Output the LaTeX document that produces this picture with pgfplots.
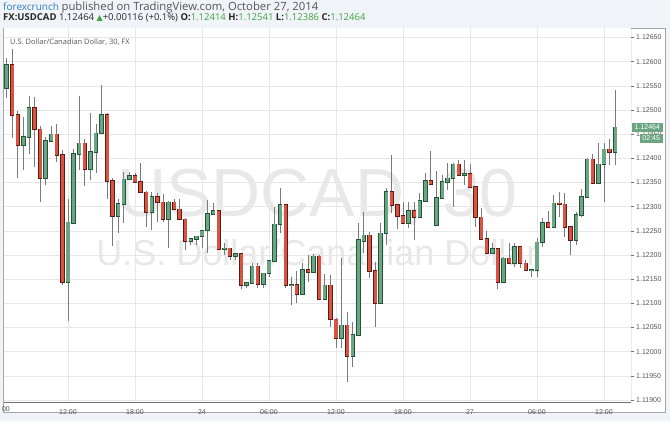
\documentclass[border=0pt]{standalone}
\usepackage{fontspec}
\setmainfont{Open Sans}
\newfontfamily\arialf{Liberation Sans}
\newfontfamily\symf{DejaVu Sans}
\usepackage{pgfplots}
\usepackage{pgfplotstable}
\pgfplotsset{compat=1.18}

\definecolor{upfill}{HTML}{6BA583}
\definecolor{upedge}{HTML}{225437}
\definecolor{dnfill}{HTML}{D75442}
\definecolor{dnedge}{HTML}{5B1A13}
\definecolor{wickc}{HTML}{7A7A7C}
\definecolor{gridc}{HTML}{E7E7E7}
\definecolor{bgc}{HTML}{F0F3F7}
\definecolor{panelc}{HTML}{A5A5A5}
\definecolor{axisc}{HTML}{707070}
\definecolor{tickc}{HTML}{555555}
\definecolor{markc}{HTML}{E8E8E8}
\definecolor{fxblue}{HTML}{2F7FC4}
\definecolor{pgreen}{HTML}{3FA142}

% 30 minute bars, k = bar number counted from 12:00 on the 23rd
\pgfplotstableread{
k O H L C
-11 1.12545 1.12607 1.12524 1.12593
-8 1.12428 1.12486 1.12376 1.12445
-7 1.12445 1.12528 1.12410 1.12505
-4 1.12360 1.12445 1.12345 1.12436
-3 1.12436 1.12467 1.12434 1.12450
0 1.12144 1.12315 1.12064 1.12268
1 1.12267 1.12419 1.12265 1.12410
2 1.12410 1.12528 1.12376 1.12431
4 1.12377 1.12493 1.12355 1.12414
5 1.12414 1.12472 1.12369 1.12452
6 1.12452 1.12552 1.12450 1.12490
9 1.12281 1.12315 1.12246 1.12306
10 1.12306 1.12372 1.12266 1.12357
11 1.12357 1.12372 1.12356 1.12364
15 1.12288 1.12331 1.12252 1.12321
18 1.12274 1.12311 1.12214 1.12309
22 1.12230 1.12234 1.12221 1.12233
23 1.12233 1.12240 1.12221 1.12239
24 1.12239 1.12251 1.12214 1.12250
25 1.12251 1.12314 1.12205 1.12285
26 1.12285 1.12308 1.12284 1.12292
28 1.12212 1.12224 1.12200 1.12214
30 1.12199 1.12203 1.12190 1.12202
32 1.12137 1.12142 1.12131 1.12142
33 1.12142 1.12183 1.12140 1.12177
35 1.12140 1.12163 1.12131 1.12162
36 1.12162 1.12188 1.12155 1.12188
37 1.12188 1.12300 1.12186 1.12264
38 1.12264 1.12338 1.12245 1.12304
40 1.12137 1.12155 1.12097 1.12139
42 1.12120 1.12183 1.12118 1.12170
44 1.12164 1.12202 1.12162 1.12197
46 1.12108 1.12161 1.12106 1.12137
49 1.12029 1.12193 1.12007 1.12055
51 1.11992 1.12062 1.11969 1.12035
52 1.12035 1.12266 1.12033 1.12231
53 1.12230 1.12288 1.12204 1.12241
56 1.12101 1.12266 1.12099 1.12245
57 1.12245 1.12338 1.12221 1.12331
61 1.12267 1.12310 1.12256 1.12291
63 1.12279 1.12329 1.12277 1.12312
64 1.12312 1.12369 1.12310 1.12354
66 1.12262 1.12374 1.12260 1.12319
67 1.12319 1.12365 1.12317 1.12351
68 1.12351 1.12390 1.12334 1.12359
69 1.12359 1.12391 1.12300 1.12388
71 1.12365 1.12397 1.12345 1.12368
76 1.12205 1.12224 1.12203 1.12213
78 1.12144 1.12195 1.12142 1.12193
80 1.12183 1.12224 1.12176 1.12217
83 1.12168 1.12171 1.12155 1.12170
84 1.12170 1.12235 1.12155 1.12226
85 1.12226 1.12276 1.12217 1.12267
87 1.12257 1.12324 1.12255 1.12307
91 1.12231 1.12290 1.12221 1.12283
92 1.12283 1.12336 1.12279 1.12321
93 1.12321 1.12400 1.12319 1.12398
95 1.12348 1.12431 1.12347 1.12388
96 1.12388 1.12431 1.12310 1.12419
98 1.12414 1.12541 1.12386 1.12464
}\upbars

\pgfplotstableread{
k O H L C
-10 1.12593 1.12626 1.12442 1.12490
-9 1.12490 1.12497 1.12359 1.12428
-6 1.12505 1.12528 1.12383 1.12460
-5 1.12460 1.12467 1.12310 1.12360
-2 1.12450 1.12472 1.12393 1.12406
-1 1.12407 1.12417 1.12138 1.12144
3 1.12431 1.12440 1.12343 1.12377
7 1.12490 1.12493 1.12315 1.12353
8 1.12353 1.12359 1.12219 1.12281
12 1.12364 1.12370 1.12350 1.12352
13 1.12352 1.12390 1.12328 1.12331
14 1.12330 1.12332 1.12259 1.12288
16 1.12321 1.12328 1.12269 1.12309
17 1.12309 1.12326 1.12269 1.12274
19 1.12309 1.12315 1.12293 1.12295
20 1.12295 1.12315 1.12272 1.12274
21 1.12274 1.12276 1.12210 1.12230
27 1.12292 1.12294 1.12210 1.12212
29 1.12214 1.12215 1.12190 1.12199
31 1.12202 1.12203 1.12129 1.12137
34 1.12177 1.12183 1.12132 1.12140
39 1.12304 1.12305 1.12131 1.12137
41 1.12139 1.12166 1.12100 1.12120
43 1.12170 1.12200 1.12145 1.12164
45 1.12197 1.12200 1.12106 1.12108
47 1.12137 1.12159 1.12052 1.12067
48 1.12067 1.12069 1.12007 1.12029
50 1.12055 1.12083 1.11937 1.11992
54 1.12241 1.12248 1.12152 1.12167
55 1.12167 1.12186 1.12052 1.12101
58 1.12331 1.12407 1.12286 1.12304
59 1.12304 1.12306 1.12253 1.12281
60 1.12281 1.12310 1.12265 1.12267
62 1.12291 1.12310 1.12231 1.12279
65 1.12354 1.12416 1.12344 1.12346
70 1.12388 1.12397 1.12364 1.12365
72 1.12368 1.12388 1.12339 1.12341
73 1.12341 1.12343 1.12259 1.12278
74 1.12278 1.12297 1.12231 1.12233
75 1.12233 1.12250 1.12203 1.12205
77 1.12213 1.12215 1.12129 1.12144
79 1.12193 1.12224 1.12181 1.12183
81 1.12217 1.12219 1.12174 1.12183
82 1.12183 1.12190 1.12166 1.12168
86 1.12267 1.12292 1.12255 1.12257
88 1.12307 1.12331 1.12279 1.12305
89 1.12305 1.12328 1.12238 1.12259
90 1.12259 1.12261 1.12200 1.12231
94 1.12398 1.12410 1.12347 1.12348
97 1.12419 1.12441 1.12386 1.12414
}\downbars

\pgfplotsset{
  candle/.style n args={2}{draw=none, mark=none,
    error bars/.cd, y dir=both, y explicit, error mark=none,
    error bar style={draw=#1, line width=#2}},
}

\begin{document}
\begin{tikzpicture}
\useasboundingbox (0,0) rectangle (670pt,421pt);
\fill[bgc] (0,0) rectangle (670pt,421pt);
\draw[panelc, fill=white, line width=0.8pt] (3pt,9pt) rectangle (665.5pt,393pt);

% header
\node[anchor=base west, inner sep=0pt, text=tickc]
  at (3pt,410.5pt) {\textcolor{fxblue}{\fontsize{10}{12}\selectfont forexcrunch}\ \fontsize{11.3}{13}\selectfont published on TradingView.com, October 27, 2014};
\node[anchor=base west, inner sep=0pt, font=\fontsize{9.5}{11}\selectfont, text=black!85]
  at (3pt,400.5pt) {\textbf{FX:USDCAD}\ 1.12464\ \textcolor{pgreen}{\symf\fontsize{8}{9}\selectfont ▲}+0.00116 (+0.1\%)\ \textbf{O:}\textcolor{pgreen}{1.12414}\ \textbf{H:}\textcolor{pgreen}{1.12541}\ \textbf{L:}\textcolor{pgreen}{1.12386}\ \textbf{C:}\textcolor{pgreen}{1.12464}};

\begin{axis}[
  at={(4pt,19pt)}, anchor=south west,
  scale only axis, width=627pt, height=374pt,
  xmin=-11.46, xmax=100.84,
  ymin=1.118959, ymax=1.126697,
  axis background/.style={fill=white},
  axis line style={draw=none},
  xtick={0,12,24,36,48,60,72,84,96},
  xticklabels={12:00,18:00,24,06:00,12:00,18:00,27,06:00,12:00},
  ytick={1.119,1.1195,1.12,1.1205,1.121,1.1215,1.122,1.1225,1.123,1.1235,1.124,1.1245,1.125,1.1255,1.126,1.1265},
  yticklabels={1.11900,1.11950,1.12000,1.12050,1.12100,1.12150,1.12200,1.12250,1.12300,1.12350,1.12400,1.12450,1.12500,1.12550,1.12600,1.12650},
  scaled y ticks=false,
  xtick pos=bottom, ytick pos=right,
  xticklabel pos=bottom, yticklabel pos=right,
  xtick style={draw=none},
  ytick style={axisc, line width=0.6pt},
  tick align=outside, major tick length=3pt,
  tick label style={font=\arialf\fontsize{7}{8}\selectfont, text=tickc},
  xticklabel style={anchor=north, inner sep=0pt, yshift=-4.5pt},
  yticklabel style={anchor=west, inner sep=0pt, xshift=2pt},
  grid=major, grid style={gridc, line width=0.7pt},
]
\node[anchor=base, inner sep=0pt, text=markc, font=\arialf\fontsize{68}{70}\selectfont]
  at (rel axis cs:0.5,0.4955) {USDCAD, 30};
\node[anchor=base, inner sep=0pt, text=markc, font=\arialf\fontsize{36}{38}\selectfont]
  at (rel axis cs:0.5,0.366) {U.S. Dollar/Canadian Dollar};

% wicks
\addplot[candle={wickc}{0.8pt}]
  table[x=k, y=L, y error plus expr=\thisrow{H}-\thisrow{L}, y error minus expr=0] {\upbars};
\addplot[candle={wickc}{0.8pt}]
  table[x=k, y=L, y error plus expr=\thisrow{H}-\thisrow{L}, y error minus expr=0] {\downbars};
% rising bars
\addplot[candle={upedge}{4.4pt}]
  table[x=k, y=O, y error plus expr=\thisrow{C}-\thisrow{O}+0.000012, y error minus expr=0.000012] {\upbars};
\addplot[candle={upfill}{3.1pt}]
  table[x=k, y=O, y error plus expr=\thisrow{C}-\thisrow{O}, y error minus expr=0] {\upbars};
% falling bars
\addplot[candle={dnedge}{4.4pt}]
  table[x=k, y=C, y error plus expr=\thisrow{O}-\thisrow{C}+0.000012, y error minus expr=0.000012] {\downbars};
\addplot[candle={dnfill}{3.1pt}]
  table[x=k, y=C, y error plus expr=\thisrow{O}-\thisrow{C}, y error minus expr=0] {\downbars};

\draw[axisc, line width=0.8pt] (rel axis cs:0,0) -- (rel axis cs:1,0) -- (rel axis cs:1,1);
\coordinate (lastp) at (axis cs:100.84,1.12464);
\end{axis}

\node[anchor=base west, inner sep=0pt, font=\fontsize{7.5}{9}\selectfont, text=tickc]
  at (10pt,376.5pt) {U.S. Dollar/Canadian Dollar, 30, FX};
\node[anchor=north, inner sep=0pt, font=\arialf\fontsize{7}{8}\selectfont, text=tickc]
  at (5.9pt,14.5pt) {00};
\node[anchor=west, fill=upfill, text=white, inner xsep=2.5pt, inner ysep=0pt,
  minimum height=9pt, font=\arialf\fontsize{7}{8}\selectfont] (pbox)
  at ([xshift=1pt]lastp) {1.12464};
\node[anchor=north east, fill=upfill, text=white, inner xsep=2.5pt, inner ysep=0pt,
  minimum height=9pt, font=\arialf\fontsize{7}{8}\selectfont]
  at ([yshift=-1.5pt]pbox.south east) {02:45};
\end{tikzpicture}
\end{document}
